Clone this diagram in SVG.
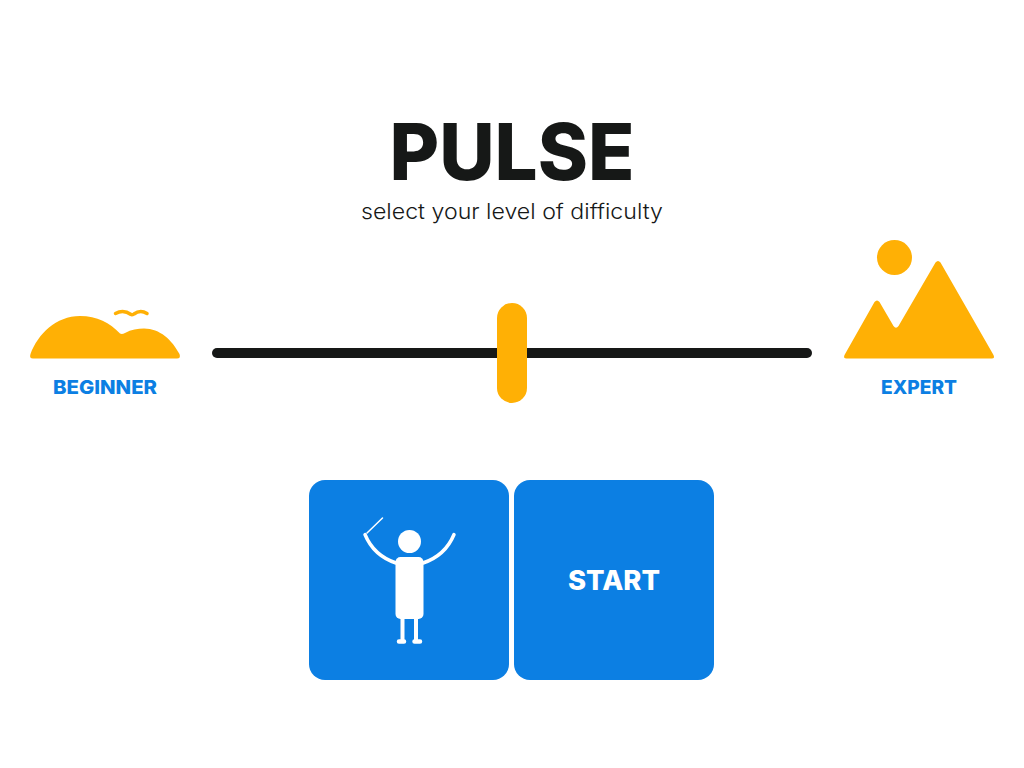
<svg xmlns="http://www.w3.org/2000/svg" width="1024" height="768" viewBox="0 0 1024 768">
<style>
.y{fill:#ffb005}
.b{fill:#0c7fe3}
.w{fill:#fff}
.s{fill:none;stroke:#fff;stroke-linecap:round}
text{font-family:Inter,"Noto Sans",sans-serif;text-anchor:middle}
.l{font-size:19px;font-weight:800;fill:#0c7fe3}
</style>
<rect width="1024" height="768" fill="#fff"/>
<g id="title">
<text x="512" y="180" font-size="78" font-weight="800" fill="#161817" textLength="245" lengthAdjust="spacingAndGlyphs">PULSE</text>
<text x="512" y="219" font-size="21.500" font-weight="300" fill="#161817" textLength="302" lengthAdjust="spacingAndGlyphs">select your level of difficulty</text>
</g>
<g id="beginner">
<path class="y" d="M33 358.500Q29 358.500 30.500 354C38 334 56 316 80 316C97 316 110 323 120 333.500Q122 334.500 125 333C131 329.500 138 328.500 144 328.500C160 328.500 172 340 179.500 354Q181 358.500 177 358.500Z"/>
<path d="M115.500 313.500C120 311 126 311 131 314.500Q132 315 134 314C138 311 143 311 147 313.500" fill="none" stroke="#ffb005" stroke-width="3.500" stroke-linecap="round"/>
<text class="l" x="105" y="394" textLength="104" lengthAdjust="spacingAndGlyphs">BEGINNER</text>
</g>
<g id="slider">
<rect x="212" y="348" width="600" height="10" rx="5" fill="#161817"/>
<rect class="y" x="497" y="303" width="30" height="100" rx="15"/>
</g>
<g id="expert">
<circle class="y" cx="894.500" cy="257.500" r="17.500"/>
<path class="y" d="M846.500 358.500Q843 358.500 844.500 355L874.500 302Q877 299 879.500 302L893.500 326Q896 329.500 898.500 326L935.500 262.500Q938 259.500 940.500 262.500L993.500 355Q995 358.500 992 358.500Z"/>
<text class="l" x="919" y="394" textLength="76" lengthAdjust="spacingAndGlyphs">EXPERT</text>
</g>
<g id="conductor-button">
<rect class="b" x="309" y="480" width="200" height="200" rx="16"/>
<circle class="w" cx="409.500" cy="541.500" r="11.500"/>
<rect class="w" x="395.500" y="557" width="28" height="62" rx="5"/>
<path class="s" d="M365 534.500C371 549 381 558 396 563M454 534.500C448 549 438 558 423 563" stroke-width="3.500"/>
<path class="s" d="M367 533L382.500 518" stroke-width="1.500"/>
<path class="s" d="M402.500 618V641M416 618V641" stroke-width="4"/>
<path class="s" d="M399 641.500H404M414.500 641.500H420" stroke-width="4.500"/>
</g>
<g id="start-button">
<rect class="b" x="514" y="480" width="200" height="200" rx="16"/>
<text x="614" y="590" font-size="27" font-weight="800" fill="#fff" textLength="92" lengthAdjust="spacingAndGlyphs">START</text>
</g>
</svg>
